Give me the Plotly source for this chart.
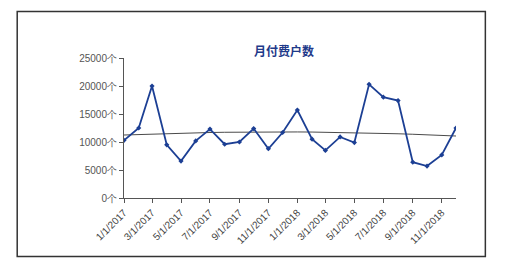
import numpy as np
import pandas as pd
import plotly.graph_objects as go

months = pd.date_range("2017-01-01", "2018-12-01", freq="MS")
values = [10300, 12500, 20000, 9500, 6600, 10200, 12300, 9600, 10000, 12400, 8800, 11700,
          15700, 10500, 8500, 10900, 9900, 20300, 18000, 17400, 6400, 5700, 7700, 12500]
title_text = "月付费户数"
y_ticks = [0, 5000, 10000, 15000, 20000, 25000]
y_labels = [f"{v}个" for v in y_ticks]
# polynomial trendline (order 2): start, middle, end
trend_at = [0, 11.5, 23]
trend_read = [11250, 11800, 11070]

xi = np.arange(len(values))
coef = np.polyfit(trend_at, trend_read, 2)
trend = np.polyval(coef, xi)

fig = go.Figure()
fig.add_trace(go.Scatter(x=months, y=trend, mode="lines",
                         line=dict(color="#4a4a4a", width=1), hoverinfo="skip"))
fig.add_trace(go.Scatter(x=months, y=values, mode="lines+markers",
                         line=dict(color="#1c3f94", width=1.8),
                         marker=dict(color="#1c3f94", size=4, symbol="diamond")))

L, R, T, B = 124.3, 455.7, 58.3, 198.3
W, H = R - L, B - T
fig.update_layout(
    width=506, height=267,
    margin=dict(l=L, r=506 - R, t=T, b=267 - B, pad=0),
    paper_bgcolor="white", plot_bgcolor="white",
    showlegend=False,
    font=dict(family="Liberation Sans, Arial, sans-serif", size=10, color="#555555"),
    title=dict(text="<b>" + title_text + "</b>", x=284 / 506, y=1 - 52 / 267,
               xanchor="center", yanchor="middle", xref="container", yref="container",
               font=dict(family="Noto Sans CJK SC", size=12, color="#1f3a8a")),
    xaxis=dict(range=[months[0], months[-1]], tickvals=months[::2],
               tickformat="%-m/%-d/%Y", tickangle=-45, showgrid=False, zeroline=False,
               showline=True, linecolor="#555555", linewidth=1, ticks="outside",
               ticklen=4, tickcolor="#555555", tickfont=dict(size=10, color="#444444")),
    yaxis=dict(range=[0, 25000], tickvals=y_ticks, ticktext=y_labels, showgrid=False,
               zeroline=False, showline=True, linecolor="#555555", linewidth=1,
               ticks="outside", ticklen=4, tickcolor="#555555",
               tickfont=dict(size=10, color="#555555")),
    shapes=[dict(type="rect", xref="paper", yref="paper",
                 x0=(17.7 - L) / W, x1=(485 - L) / W,
                 y0=-(256.7 - B) / H, y1=(B - 11.7) / H,
                 line=dict(color="#333333", width=1.5))],
)
fig.write_html("out.html")
